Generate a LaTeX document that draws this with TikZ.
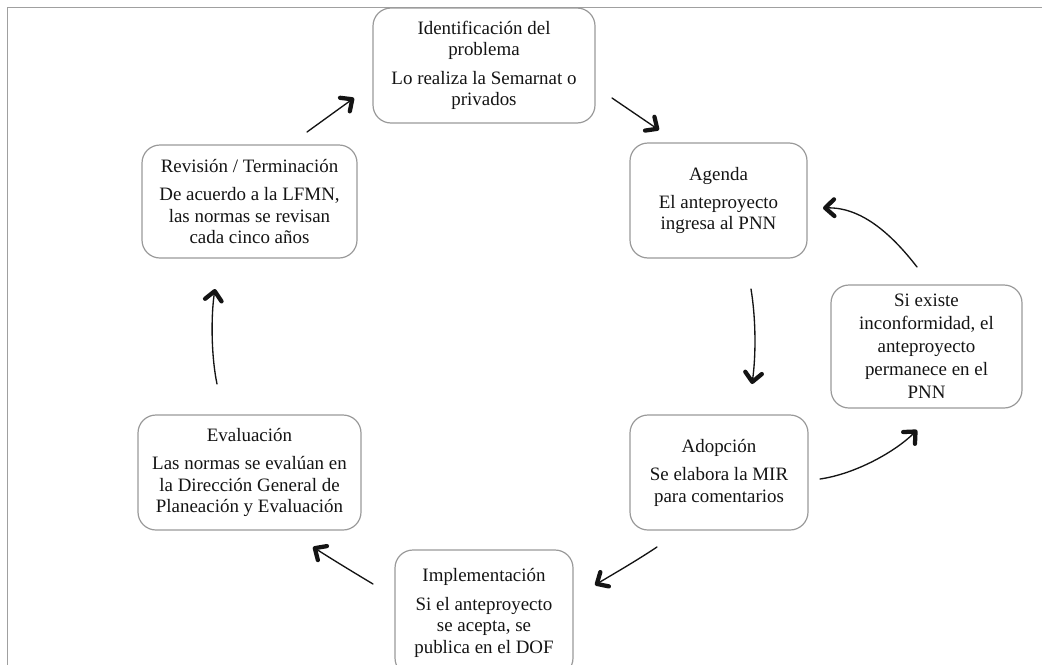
\documentclass[tikz,border=0pt]{standalone}
\usepackage{fontspec}
\setmainfont{Liberation Serif}
\usetikzlibrary{arrows.meta}
\newdimen\pxd \pxd=0.75pt
\definecolor{framegray}{HTML}{A0A0A0}
\definecolor{boxgray}{HTML}{9A9A9A}
\definecolor{ink}{HTML}{141414}
\begin{document}
\begin{tikzpicture}[x=0.75pt,y=-0.75pt,
  stagebox/.style={draw=boxgray,line width=0.9pt,rounded corners=13.5pt,
    align=center,text=ink,inner sep=0pt,
    font=\fontsize{14.2}{16.1}\selectfont},
  flow/.style={line width=1pt,draw=ink,line cap=round,
    -{Straight Barb[length=6.8pt,width=12.5pt,line width=3.2pt 0,round]}}
]
\path[use as bounding box] (0,0) rectangle (1042,664);
\clip (0,0) rectangle (1042,664);
\fill[white] (0,0) rectangle (1042,664);
% outer frame
\draw[framegray,line width=1.1pt] (7.5,700) -- (7.5,7.5) -- (1100,7.5);

% stages of the cycle
\node[stagebox,minimum width=222\pxd,minimum height=115\pxd] (ident) at (484,65.5)
  {Identificación del\\problema\\[5.25pt]Lo realiza la Semarnat o\\privados};
\node[stagebox,minimum width=177\pxd,minimum height=115\pxd] (agenda) at (718.5,200.5)
  {Agenda\\[5.25pt]El anteproyecto\\ingresa al PNN};
\node[stagebox,minimum width=191\pxd,minimum height=123\pxd,
  font=\fontsize{14.2}{17.2}\selectfont] (sie) at (926.5,346.5)
  {Si existe\\inconformidad, el\\anteproyecto\\permanece en el\\PNN};
\node[stagebox,minimum width=178\pxd,minimum height=115\pxd] (adop) at (719,472.5)
  {Adopción\\[5.25pt]Se elabora la MIR\\para comentarios};
\node[stagebox,minimum width=178\pxd,minimum height=126\pxd] (impl) at (484,613)
  {Implementación\\[5.25pt]Si el anteproyecto\\se acepta, se\\publica en el DOF};
\node[stagebox,minimum width=223\pxd,minimum height=115\pxd] (eval) at (249.5,472.5)
  {Evaluación\\[5.25pt]Las normas se evalúan en\\la Dirección General de\\Planeación y Evaluación};
\node[stagebox,minimum width=215\pxd,minimum height=113\pxd] (rev) at (249.5,201.5)
  {Revisión / Terminación\\[5.25pt]De acuerdo a la LFMN,\\las normas se revisan\\cada cinco años};

% arrow ends between the stages
\coordinate (revOut) at (307,132);   \coordinate (identIn) at (354,98);
\coordinate (identOut) at (612,98);  \coordinate (agendaIn) at (659,130);
\coordinate (agendaOut) at (751,289);\coordinate (adopIn) at (752,384);
\coordinate (adopOut) at (820,479);  \coordinate (sieIn) at (917,430);
\coordinate (sieOut) at (917,267);   \coordinate (agendaBack) at (823,208);
\coordinate (adopDown) at (657,547); \coordinate (implIn) at (595,585);
\coordinate (implOut) at (373,584);  \coordinate (evalIn) at (313,547);
\coordinate (evalOut) at (217,384);  \coordinate (revIn) at (215,289);

\draw[flow] (revOut) -- (identIn);
\draw[flow] (identOut) -- (agendaIn);
\draw[flow] (agendaOut) .. controls (756,320) and (756,355) .. (adopIn);
\draw[flow] (adopOut) .. controls (855,474) and (895,452) .. (sieIn);
\draw[flow] (sieOut) .. controls (890,232) and (860,207) .. (agendaBack);
\draw[flow] (adopDown) .. controls (636,561) and (615,573) .. (implIn);
\draw[flow] (implOut) .. controls (353,572) and (330,558) .. (evalIn);
\draw[flow] (evalOut) .. controls (211,355) and (211,315) .. (revIn);
\end{tikzpicture}
\end{document}
